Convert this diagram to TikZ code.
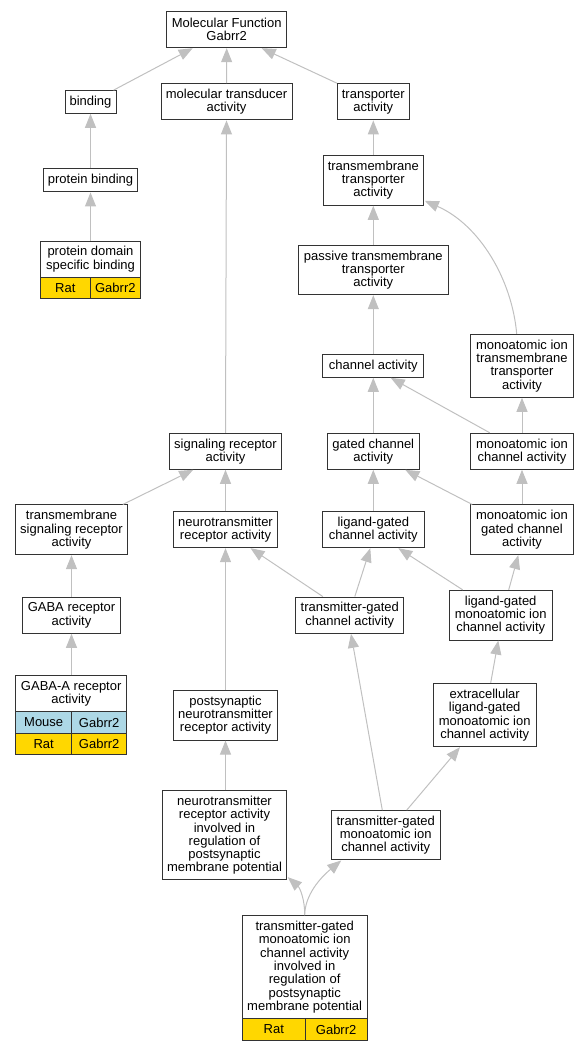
\documentclass[tikz,border=0pt]{standalone}
\usepackage{fontspec}
\setmainfont{Liberation Sans}
\usetikzlibrary{arrows.meta}
\definecolor{gold}{RGB}{255,215,0}
\definecolor{lblue}{RGB}{173,216,230}
\definecolor{edgegray}{RGB}{192,192,192}
\newcommand\nodefont{\fontsize{13}{13.3}\selectfont}
\tikzset{
  box/.style={draw=black!80, line width=1pt, fill=white, inner sep=0pt, align=center, font=\nodefont},
  sz/.style 2 args={minimum width=#1pt, minimum height=#2pt},
  ratcell/.style={box, fill=gold},
  mousecell/.style={box, fill=lblue},
  edge/.style={draw=edgegray, line width=1pt, -{Triangle[length=14pt,width=11pt]}},
}
\begin{document}
\begin{tikzpicture}[x=1pt,y=-1pt]
\useasboundingbox (0,0) rectangle (588,1051);
% nodes
\node[box, sz={120}{36}] (mf) at (226.7,29.7) {Molecular Function\\Gabrr2};
\node[box, sz={51}{22.6}] (binding) at (90.5,102) {binding};
\node[box, sz={131}{36.3}] (mtd) at (226.5,101.8) {molecular transducer\\activity};
\node[box, sz={72}{36.3}] (transporter) at (373.3,101.8) {transporter\\activity};
\node[box, sz={94.6}{23.3}] (pb) at (90.5,180.3) {protein binding};
\node[box, sz={100}{36}] (pdsb) at (90.5,259) {protein domain\\specific binding};
\node[ratcell, sz={50.7}{21.7}] (pdsbA) at (65.35,287.85) {Rat};
\node[ratcell, sz={49.3}{21.7}] (pdsbB) at (115.35,287.85) {Gabrr2};
\node[box, sz={100}{50}] (tmta) at (373.3,180.3) {transmembrane\\transporter\\activity};
\node[box, sz={149.7}{49.4}] (passive) at (373.3,270) {passive transmembrane\\transporter\\activity};
\node[box, sz={101.3}{23}] (channel) at (373.3,365.8) {channel activity};
\node[box, sz={102.6}{63}] (mitta) at (522,365.8) {monoatomic ion\\transmembrane\\transporter\\activity};
\node[box, sz={91.4}{36}] (gated) at (373.3,451.3) {gated channel\\activity};
\node[box, sz={103.4}{36}] (mica) at (522,451.3) {monoatomic ion\\channel activity};
\node[box, sz={112}{36}] (sra) at (225.5,451.3) {signaling receptor\\activity};
\node[box, sz={112.3}{49.7}] (tmsra) at (71.5,529.8) {transmembrane\\signaling receptor\\activity};
\node[box, sz={104}{35.7}] (ntra) at (225.5,529.8) {neurotransmitter\\receptor activity};
\node[box, sz={101.4}{36}] (lgca) at (373.3,529.7) {ligand-gated\\channel activity};
\node[box, sz={103.4}{49.7}] (migca) at (522,529.8) {monoatomic ion\\gated channel\\activity};
\node[box, sz={97.7}{36}] (gaba) at (71.5,615.3) {GABA receptor\\activity};
\node[box, sz={108.3}{36.3}] (tgca) at (349.8,615.2) {transmitter-gated\\channel activity};
\node[box, sz={103.3}{49.7}] (lgmica) at (500.7,615.2) {ligand-gated\\monoatomic ion\\channel activity};
\node[box, sz={111}{36}] (gabaa) at (71.2,693.7) {GABA-A receptor\\activity};
\node[mousecell, sz={56}{21.3}] (gabaaMA) at (43.7,722.35) {Mouse};
\node[mousecell, sz={55}{21.3}] (gabaaMB) at (99.2,722.35) {Gabrr2};
\node[ratcell, sz={56}{21.3}] (gabaaRA) at (43.7,743.65) {Rat};
\node[ratcell, sz={55}{21.3}] (gabaaRB) at (99.2,743.65) {Gabrr2};
\node[box, sz={104}{49.7}] (postsyn) at (225.5,715.2) {postsynaptic\\neurotransmitter\\receptor activity};
\node[box, sz={103.3}{63.4}] (elgmica) at (484.7,715) {extracellular\\ligand-gated\\monoatomic ion\\channel activity};
\node[box, sz={124.4}{89.3}] (ntrainv) at (224.5,835.3) {neurotransmitter\\receptor activity\\involved in\\regulation of\\postsynaptic\\membrane potential};
\node[box, sz={108.7}{49.3}] (tgmica) at (385.7,835.3) {transmitter-gated\\monoatomic ion\\channel activity};
\node[box, sz={124.7}{103}] (tgmp) at (304.65,967.2) {transmitter-gated\\monoatomic ion\\channel activity\\involved in\\regulation of\\postsynaptic\\membrane potential};
\node[ratcell, sz={63}{21.3}] (tgmpA) at (273.8,1029.35) {Rat};
\node[ratcell, sz={61.7}{21.3}] (tgmpB) at (336.15,1029.35) {Gabrr2};
% edges
\draw[edge] ([xshift=-3pt]binding.north east) -- ([xshift=-34pt]mf.south);
\draw[edge] (mtd.north) -- (mf.south);
\draw[edge] (transporter.north west) -- ([xshift=35pt]mf.south);
\draw[edge] (pb.north) -- (binding.south);
\draw[edge] (pdsb.north) -- (pb.south);
\draw[edge] (tmta.north) -- (transporter.south);
\draw[edge] (passive.north) -- (tmta.south);
\draw[edge] (channel.north) -- (passive.south);
\draw[edge] ([xshift=-5.3pt]mitta.north) .. controls (512,280) and (480,225) .. ([shift={(1pt,5pt)}]tmta.south east);
\draw[edge] ([xshift=20pt]mica.north west) -- ([xshift=17.4pt]channel.south);
\draw[edge] (mica.north) -- (mitta.south);
\draw[edge] (gated.north) -- (channel.south);
\draw[edge] (sra.north) -- (mtd.south);
\draw[edge] ([xshift=-5.3pt]tmsra.north east) -- ([xshift=-32.3pt]sra.south);
\draw[edge] (ntra.north) -- (sra.south);
\draw[edge] (lgca.north) -- (gated.south);
\draw[edge] ([xshift=2.4pt]migca.north west) -- ([xshift=32pt]gated.south);
\draw[edge] (migca.north) -- (mica.south);
\draw[edge] (gaba.north) -- (tmsra.south);
\draw[edge] ([xshift=-27pt]tgca.north) -- ([xshift=25pt]ntra.south);
\draw[edge] ([xshift=5pt]tgca.north) -- ([xshift=-3pt]lgca.south);
\draw[edge] ([xshift=-38pt]lgmica.north) -- ([xshift=25pt]lgca.south);
\draw[edge] ([xshift=8pt]lgmica.north) -- ([xshift=-3.7pt]migca.south);
\draw[edge] ([xshift=0.3pt]gabaa.north) -- (gaba.south);
\draw[edge] (postsyn.north) -- (ntra.south);
\draw[edge] ([xshift=6pt]elgmica.north) -- ([xshift=-2.4pt]lgmica.south);
\draw[edge] ([xshift=1pt]ntrainv.north) -- (postsyn.south);
\draw[edge] ([xshift=-3.4pt]tgmica.north) -- ([xshift=1.2pt]tgca.south);
\draw[edge] ([xshift=21pt]tgmica.north) -- ([xshift=-24.7pt]elgmica.south);
\draw[edge] (tgmp.north) .. controls (305,900) and (300,888) .. ([shift={(0.6pt,3.3pt)}]ntrainv.south east);
\draw[edge] (tgmp.north) .. controls (305,895) and (320,878) .. ([xshift=10.4pt]tgmica.south west);
\end{tikzpicture}
\end{document}
